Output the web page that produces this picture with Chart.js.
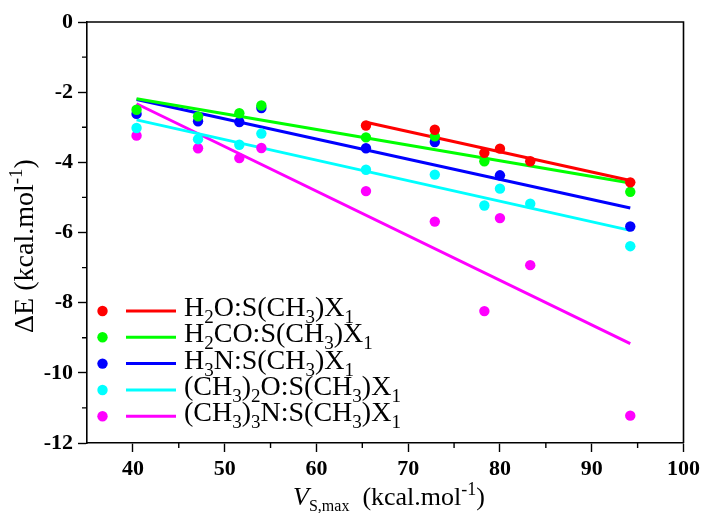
<!DOCTYPE html>
<html><head><meta charset="utf-8">
<script src="https://cdn.jsdelivr.net/npm/chart.js@4/dist/chart.umd.min.js"></script>
<style>html,body{margin:0;padding:0;background:#fff;}</style>
</head><body>
<canvas id="c" width="704" height="513"></canvas>
<script>
// ---- data ----
const xValues = [40.4, 47.1, 51.6, 54.0, 65.4, 72.9, 78.3, 80.0, 83.3, 94.2];
const h2oValues   = [null, null, null, null, -2.95, -3.07, -3.73, -3.61, -3.97, -4.57];
const h2coValues  = [-2.50, -2.69, -2.60, -2.38, -3.29, -3.26, -3.97, null, null, -4.84];
const h3nValues   = [-2.62, -2.83, -2.85, -2.45, -3.60, -3.42, null, -4.37, null, -5.83];
const me2oValues  = [-3.02, -3.34, -3.50, -3.18, -4.21, -4.35, -5.23, -4.75, -5.18, -6.39];
const me3nValues  = [-3.24, -3.60, -3.88, -3.59, -4.82, -5.69, -8.24, -5.59, -6.93, -11.22];

// fitted lines: [x start, x end] and [y start, y end]
const h2oFitX  = [65.4, 94.2];  const h2oFitY  = [-2.86, -4.52];
const h2coFitX = [40.4, 94.2];  const h2coFitY = [-2.19, -4.59];
const h3nFitX  = [40.4, 94.2];  const h3nFitY  = [-2.21, -5.30];
const me2oFitX = [40.4, 94.2];  const me2oFitY = [-2.79, -5.94];
const me3nFitX = [40.4, 94.2];  const me3nFitY = [-2.33, -9.17];

const xTickValues = [40, 50, 60, 70, 80, 90, 100];
const xMinorTicks = [45, 55, 65, 75, 85, 95];
const yMinorTicks = [-1, -3, -5, -7, -9, -11];

// legend labels as text segments: [text, kind]
const seriesLabels = [
  [['H',''],['2','sub'],['O:S(CH',''],['3','sub'],[')X',''],['1','sub']],
  [['H',''],['2','sub'],['CO:S(CH',''],['3','sub'],[')X',''],['1','sub']],
  [['H',''],['3','sub'],['N:S(CH',''],['3','sub'],[')X',''],['1','sub']],
  [['(CH',''],['3','sub'],[')',''],['2','sub'],['O:S(CH',''],['3','sub'],[')X',''],['1','sub']],
  [['(CH',''],['3','sub'],[')',''],['3','sub'],['N:S(CH',''],['3','sub'],[')X',''],['1','sub']]
];
const seriesColors = ['#ff0000', '#00ff00', '#0000ff', '#00ffff', '#ff00ff'];
const xTitle = [['V','it'],['S,max','sub2'],['  (kcal.mol',''],['-1','sup'],[')','']];
const yTitle = [['\u0394E (kcal.mol',''],['-1','sup'],[')','']];

const pts = (ys) => xValues.map((x, i) => ys[i] === null ? null : {x: x, y: ys[i]}).filter(p => p);
const fit = (xs, ys) => xs.map((x, i) => ({x: x, y: ys[i]}));

const allPoints = [h2oValues, h2coValues, h3nValues, me2oValues, me3nValues];
const allFits = [[h2oFitX, h2oFitY], [h2coFitX, h2coFitY], [h3nFitX, h3nFitY], [me2oFitX, me2oFitY], [me3nFitX, me3nFitY]];

const datasets = [];
allPoints.forEach((ys, i) => datasets.push({
  type: 'scatter', data: pts(ys), showLine: false,
  pointRadius: 5.2, pointBackgroundColor: seriesColors[i], pointBorderWidth: 0, borderColor: seriesColors[i]
}));
allFits.forEach((f, i) => datasets.push({
  type: 'scatter', data: fit(f[0], f[1]), showLine: true, pointRadius: 0,
  borderColor: seriesColors[i], borderWidth: 3, fill: false
}));

const SERIF = '"Liberation Serif", "Times New Roman", serif';

function segFont(kind, base) {
  if (kind === 'sub' || kind === 'sup') return Math.round(base * 0.68) + 'px ' + SERIF;
  if (kind === 'sub2') return Math.round(base * 0.6) + 'px ' + SERIF;
  if (kind === 'it') return 'italic ' + base + 'px ' + SERIF;
  return base + 'px ' + SERIF;
}
function richWidth(ctx, segs, base) {
  let w = 0;
  segs.forEach(s => { ctx.font = segFont(s[1], base); w += ctx.measureText(s[0]).width; });
  return w;
}
function drawRich(ctx, segs, x, y, base, subOff, supOff) {
  ctx.textAlign = 'left'; ctx.textBaseline = 'alphabetic';
  let cx = x;
  segs.forEach(s => {
    ctx.font = segFont(s[1], base);
    let dy = 0;
    if (s[1] === 'sub' || s[1] === 'sub2') dy = subOff;
    if (s[1] === 'sup') dy = -supOff;
    ctx.fillText(s[0], cx, y + dy);
    cx += ctx.measureText(s[0]).width;
  });
}

const decor = {
  id: 'decor',
  afterDraw(chart) {
    const ctx = chart.ctx, a = chart.chartArea;
    const xs = chart.scales.x, ys = chart.scales.y;
    ctx.save();
    ctx.strokeStyle = '#000'; ctx.lineWidth = 1.6;
    // frame top & right
    ctx.beginPath();
    ctx.moveTo(a.left, a.top); ctx.lineTo(a.right, a.top); ctx.lineTo(a.right, a.bottom);
    ctx.stroke();
    // minor ticks
    ctx.lineWidth = 1.4;
    ctx.beginPath();
    xMinorTicks.forEach(v => { const p = xs.getPixelForValue(v); ctx.moveTo(p, a.bottom); ctx.lineTo(p, a.bottom + 5); });
    yMinorTicks.forEach(v => { const p = ys.getPixelForValue(v); ctx.moveTo(a.left, p); ctx.lineTo(a.left - 5, p); });
    ctx.stroke();

    // legend
    const rowY = [311, 337.3, 363.6, 390, 416.3];
    seriesLabels.forEach((segs, i) => {
      const y = rowY[i];
      ctx.fillStyle = seriesColors[i];
      ctx.beginPath(); ctx.arc(102.5, y, 5.2, 0, Math.PI * 2); ctx.fill();
      ctx.strokeStyle = seriesColors[i]; ctx.lineWidth = 3;
      ctx.beginPath(); ctx.moveTo(126, y); ctx.lineTo(176, y); ctx.stroke();
      ctx.fillStyle = '#000';
      drawRich(ctx, segs, 184, y + 5, 28, 7, 10);
    });

    // x title
    ctx.fillStyle = '#000';
    const xw = richWidth(ctx, xTitle, 26);
    drawRich(ctx, xTitle, 389 - xw / 2, 505, 26, 6, 10);

    // y title (rotated)
    ctx.save();
    ctx.translate(33, 246);
    ctx.rotate(-Math.PI / 2);
    const yw = richWidth(ctx, yTitle, 28);
    drawRich(ctx, yTitle, -yw / 2, 0, 28, 6, 11);
    ctx.restore();
    ctx.restore();
  }
};

new Chart(document.getElementById('c'), {
  type: 'scatter',
  data: { datasets: datasets },
  options: {
    responsive: false, animation: false, devicePixelRatio: 1,
    layout: { padding: { top: 22, right: 19, left: 0, bottom: 0 } },
    plugins: { legend: { display: false }, tooltip: { enabled: false } },
    scales: {
      x: {
        type: 'linear', min: 35, max: 100,
        afterBuildTicks: (s) => { s.ticks = xTickValues.map(v => ({ value: v })); },
        afterFit: (s) => { s.height = 70; },
        grid: { drawOnChartArea: false, drawTicks: true, tickLength: 9, tickWidth: 1.4, tickColor: '#000' },
        border: { display: true, color: '#000', width: 1.6 },
        ticks: { color: '#000', padding: 4, maxRotation: 0, font: { family: SERIF, size: 22, weight: 'bold' } }
      },
      y: {
        type: 'linear', min: -12, max: 0,
        ticks: { stepSize: 2, color: '#000', padding: 5, font: { family: SERIF, size: 22, weight: 'bold' } },
        afterFit: (s) => { s.width = 87; },
        grid: { drawOnChartArea: false, drawTicks: true, tickLength: 9, tickWidth: 1.4, tickColor: '#000' },
        border: { display: true, color: '#000', width: 1.6 }
      }
    }
  },
  plugins: [decor]
});
</script>
</body></html>
